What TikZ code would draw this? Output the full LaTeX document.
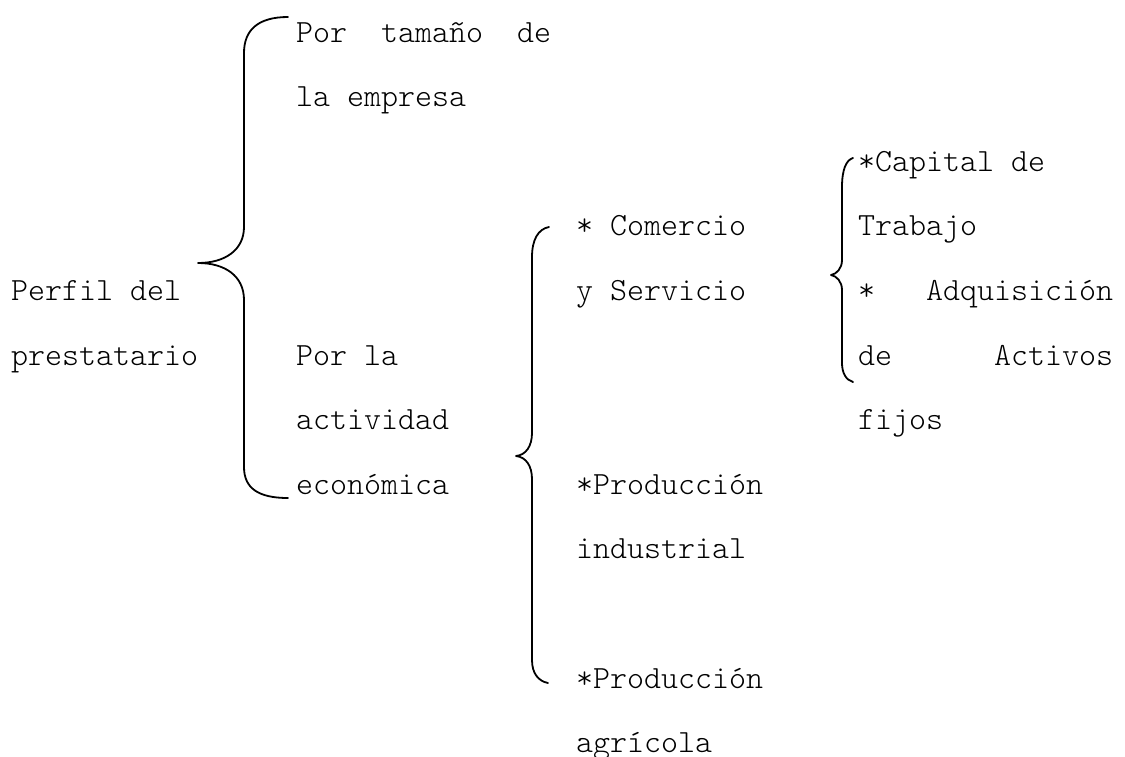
\documentclass[tikz,border=0pt]{standalone}
\usepackage{fontspec}
\usepackage{tikz}
\newfontfamily\mono{Latin Modern Mono Light}
\tikzset{
  texto/.style={font=\mono\fontsize{32.38pt}{64.6pt}\selectfont, inner sep=0pt, anchor=base west, align=left},
  llave/.style={line width=1.8pt, line cap=round, line join=round}
}
\begin{document}
\begin{tikzpicture}[x=1pt,y=-1pt]
\useasboundingbox (0,0) rectangle (1125,756);
% textos (cada nodo se coloca por la linea base de su ultima linea)
\node[texto] (perfil) at (11,365) {Perfil del\\prestatario};
\node[texto] (tamano) at (296,106.6) {\hbox to 255pt{Por\hfill tamaño\hfill de}\\la empresa};
\node[texto] (actividad) at (296,494.2) {Por la\\actividad\\económica};
\node[texto] (comercio) at (576,300.4) {* Comercio\\y Servicio};
\node[texto] (industrial) at (576,558.8) {*Producción\\industrial};
\node[texto] (agricola) at (576,752.6) {*Producción\\agrícola};
\node[texto] (capital) at (858,235.8) {*Capital de\\Trabajo};
\node[texto] (activos) at (858,429.6) {\hbox to 255pt{*\hfill Adquisición}\\\hbox to 255pt{de\hfill Activos}\\fijos};
% llaves
\draw[llave] (288,17) .. controls (258,17) and (244,30) .. (244,53) -- (244,227)
  .. controls (244,250) and (225,263) .. (198,263)
  .. controls (225,263) and (244,276) .. (244,300) -- (244,467)
  .. controls (244,488) and (258,498) .. (288,498);
\draw[llave] (549,227) .. controls (538,229) and (532,240) .. (532,257) -- (532,433)
  .. controls (532,446) and (526,455) .. (516,456)
  .. controls (526,457) and (532,466) .. (532,479) -- (532,660)
  .. controls (532,673) and (538,681) .. (548,683);
\draw[llave] (853,158) .. controls (846,160) and (842,170) .. (842,187) -- (842,260)
  .. controls (842,268) and (837,274) .. (831,275)
  .. controls (837,276) and (842,282) .. (842,290) -- (842,363)
  .. controls (842,373) and (846,380) .. (853,382);
\end{tikzpicture}
\end{document}
